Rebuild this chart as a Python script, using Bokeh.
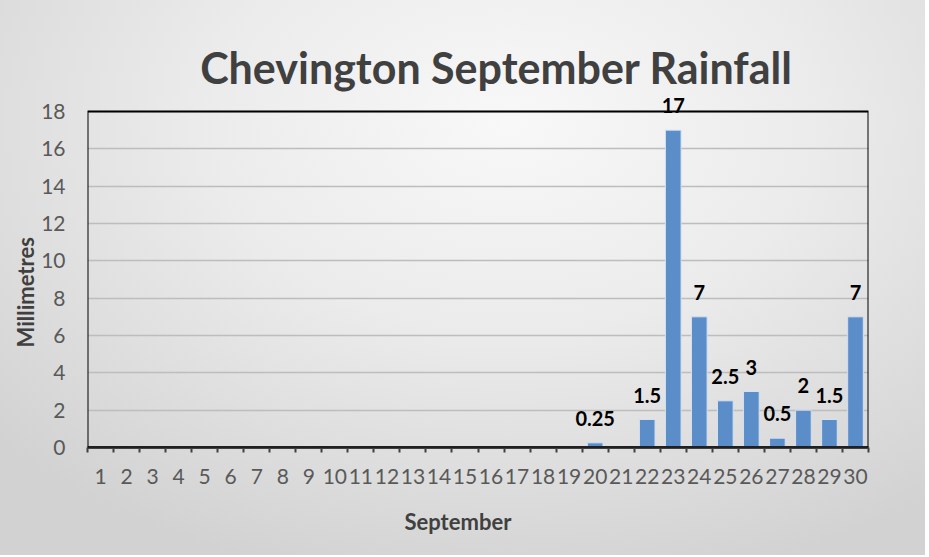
from bokeh.plotting import figure
from bokeh.models import FixedTicker, Range1d, ColumnDataSource, LabelSet, Label, BoxAnnotation, Title
from bokeh.core.properties import value
from bokeh.embed import file_html
from bokeh.resources import INLINE

# ---- data ----
days = list(range(1, 31))
rain_mm = [0, 0, 0, 0, 0, 0, 0, 0, 0, 0,
           0, 0, 0, 0, 0, 0, 0, 0, 0, 0.25,
           0, 1.5, 17, 7, 2.5, 3, 0.5, 2, 1.5, 7]
y_ticks = [0, 2, 4, 6, 8, 10, 12, 14, 16, 18]
title_text = "Chevington September Rainfall"
x_title = "September"
y_title = "Millimetres"

FONT = "Lato"

# layout (pixels)
W, H = 925, 555
frame_left, frame_right, frame_bottom = 87, 868, 447
axis_top_px = 111          # where the value 18 sits
frame_top = 20             # frame extended upward so title/labels are not clipped
y_max_axis = 18
px_per_unit = (frame_bottom - axis_top_px) / y_max_axis
y_top = (frame_bottom - frame_top) / px_per_unit

p = figure(width=W, height=H, output_backend="svg", toolbar_location=None,
           x_range=Range1d(0.5, 30.5), y_range=Range1d(0, y_top),
           min_border_left=frame_left, min_border_right=W - frame_right,
           min_border_top=frame_top, min_border_bottom=H - frame_bottom)
p.title.visible = False
p.border_fill_color = None
p.background_fill_color = None
p.styles = {"background": "radial-gradient(ellipse 75% 85% at 55% 22%, #f8f8f8 0%, #ebebeb 45%, #d2d2d2 100%)"}
p.outline_line_color = None

p.xgrid.grid_line_color = None
p.ygrid.grid_line_color = "#bdbdbd"
p.ygrid.grid_line_width = 1.5

# plot-area border (0..18 box)
p.add_layout(BoxAnnotation(left=0.5, right=30.5, bottom=0, top=y_max_axis,
                           fill_alpha=0, line_color="black", line_alpha=1.0, line_width=2))

# bars
p.vbar(x=days, top=rain_mm, width=0.6, fill_color="#5B8DC9", line_color="#D3E1F2", line_width=1)

# data labels (non-zero only)
lab_x = [d for d, v in zip(days, rain_mm) if v > 0]
lab_y = [v for v in rain_mm if v > 0]
lab_t = [("%g" % v) for v in lab_y]
src = ColumnDataSource(dict(x=lab_x, y=lab_y, t=lab_t))
p.add_layout(LabelSet(x="x", y="y", text="t", source=src, text_align="center",
                      text_baseline="alphabetic", y_offset=17, text_font=value(FONT),
                      text_font_style="bold", text_font_size="20px", text_color="black"))

# x axis
xa = p.xaxis[0]
xa.ticker = FixedTicker(ticks=days, minor_ticks=[d - 0.5 for d in days] + [30.5])
xa.major_tick_line_color = None
xa.major_tick_out = 0
xa.minor_tick_line_color = "#404040"
xa.minor_tick_line_width = 2
xa.minor_tick_out = 5
xa.minor_tick_in = 0
xa.axis_line_color = "#404040"
xa.axis_line_width = 3
xa.major_label_text_font = FONT
xa.major_label_text_font_size = "21px"
xa.major_label_text_color = "#595959"
xa.major_label_standoff = 16

# y axis
ya = p.yaxis[0]
ya.ticker = FixedTicker(ticks=y_ticks)
ya.major_tick_line_color = None
ya.minor_tick_line_color = None
ya.major_tick_out = 0
ya.axis_line_color = None
ya.major_label_text_font = FONT
ya.major_label_text_font_size = "21px"
ya.major_label_text_color = "#595959"
ya.major_label_standoff = 22

# axis titles as side-panel titles (so they can be offset like the original)
p.add_layout(Title(text=y_title, align="left", offset=100, standoff=0, text_font=FONT,
                   text_font_style="bold", text_font_size="22px", text_color="#404040"), "left")
p.add_layout(Title(text=x_title, align="left", offset=317, standoff=38, text_font=FONT,
                   text_font_style="bold", text_font_size="22px", text_color="#404040"), "below")

# chart title
p.add_layout(Label(x=16.21, y=20.36, text=title_text, text_align="center", text_baseline="alphabetic",
                   text_font=FONT, text_font_style="bold", text_font_size="43px", text_color="#404040"))

open("out.html", "w").write(file_html(p, INLINE))
